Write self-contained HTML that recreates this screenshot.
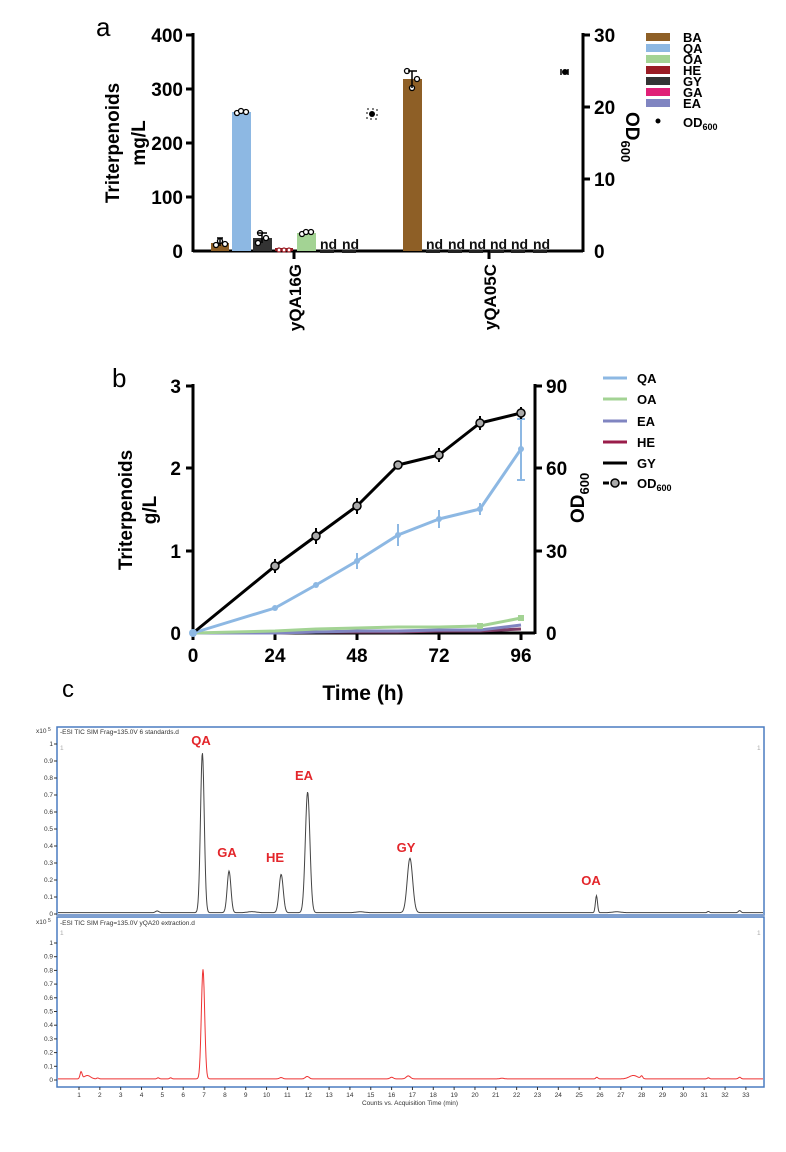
<!DOCTYPE html>
<html><head><meta charset="utf-8"><style>
body{margin:0;background:#fff;width:786px;height:1152px;overflow:hidden}
svg{display:block}
.b{font-family:"Liberation Sans",Arial,sans-serif;font-weight:bold}
.n{font-family:"Liberation Sans",Arial,sans-serif}
</style></head><body>
<svg id="s" width="786" height="1152" xmlns="http://www.w3.org/2000/svg">
<!-- Panel a -->
<text x="96" y="36" class="n" font-size="26">a</text>
<g stroke="#000" stroke-width="3" fill="none">
<line x1="193" y1="33" x2="193" y2="252"/>
<line x1="193" y1="251" x2="583" y2="251"/>
<line x1="583" y1="33" x2="583" y2="252"/>
<line x1="186" y1="35" x2="193" y2="35"/><line x1="186" y1="89" x2="193" y2="89"/><line x1="186" y1="143" x2="193" y2="143"/><line x1="186" y1="197" x2="193" y2="197"/>
<line x1="583" y1="35" x2="590" y2="35"/><line x1="583" y1="107" x2="590" y2="107"/><line x1="583" y1="179" x2="590" y2="179"/>
<line x1="294" y1="251" x2="294" y2="259"/><line x1="489" y1="251" x2="489" y2="259"/>
</g>
<g class="b" font-size="19" text-anchor="end">
<text x="183" y="42">400</text><text x="183" y="96">300</text><text x="183" y="150">200</text><text x="183" y="204">100</text><text x="183" y="258">0</text>
</g>
<g class="b" font-size="19">
<text x="594" y="42">30</text><text x="594" y="114">20</text><text x="594" y="186">10</text><text x="594" y="258">0</text>
</g>
<text class="b" font-size="19" text-anchor="middle" transform="translate(119,143) rotate(-90)">Triterpenoids</text>
<text class="b" font-size="19" text-anchor="middle" transform="translate(145,143) rotate(-90)">mg/L</text>
<text class="b" font-size="19" transform="translate(626,112) rotate(90)">OD<tspan font-size="13" dy="5">600</tspan></text>
<text class="b" font-size="17" text-anchor="end" transform="translate(301,264) rotate(-90)">yQA16G</text>
<text class="b" font-size="17" text-anchor="end" transform="translate(496,264) rotate(-90)">yQA05C</text>
<rect x="211" y="243" width="18" height="8" fill="#8e5f26"/>
<rect x="232" y="112" width="19" height="139" fill="#8db8e3"/>
<rect x="253" y="238" width="19" height="13" fill="#333"/>
<rect x="275" y="248" width="18" height="3" fill="#9a1c24"/>
<rect x="297" y="233" width="19" height="18" fill="#a3d394"/>
<rect x="403" y="79" width="19" height="172" fill="#8e5f26"/>
<g fill="#fff" stroke="#000" stroke-width="1.3">
<circle cx="216" cy="245" r="2.5"/><circle cx="220" cy="241" r="2.5"/><circle cx="225" cy="244" r="2.5"/>
<circle cx="237" cy="113" r="2.5"/><circle cx="241" cy="111" r="2.5"/><circle cx="246" cy="112" r="2.5"/>
<circle cx="258" cy="243" r="2.5"/><circle cx="260" cy="233" r="2.5"/><circle cx="266" cy="238" r="2.5"/>
<circle cx="279" cy="250" r="2" stroke="#9a1c24"/><circle cx="284" cy="250" r="2" stroke="#9a1c24"/><circle cx="289" cy="250" r="2" stroke="#9a1c24"/>
<circle cx="302" cy="234" r="2.5"/><circle cx="306" cy="232" r="2.5"/><circle cx="311" cy="232" r="2.5"/>
<circle cx="407" cy="71" r="2.5"/><circle cx="417" cy="79" r="2.5"/><circle cx="412" cy="88" r="2.5"/>
</g>
<g stroke="#000" stroke-width="1.5">
<line x1="220" y1="238" x2="220" y2="246"/><line x1="217" y1="238" x2="223" y2="238"/>
<line x1="262" y1="233" x2="262" y2="243"/><line x1="258" y1="233" x2="267" y2="233"/>
<line x1="412" y1="71" x2="412" y2="88"/><line x1="408" y1="71" x2="417" y2="71"/>
</g>
<g class="b" font-size="14" fill="#111">
<text x="320" y="249">nd</text><text x="342" y="249">nd</text>
<text x="426" y="249">nd</text><text x="448" y="249">nd</text><text x="469" y="249">nd</text><text x="490" y="249">nd</text><text x="511" y="249">nd</text><text x="533" y="249">nd</text>
</g>
<g fill="#222">
<rect x="320" y="250" width="14" height="3"/><rect x="342" y="250" width="14" height="3"/>
<rect x="426" y="250" width="14" height="3"/><rect x="448" y="250" width="14" height="3"/><rect x="469" y="250" width="14" height="3"/><rect x="490" y="250" width="14" height="3"/><rect x="511" y="250" width="14" height="3"/><rect x="533" y="250" width="14" height="3"/>
</g>
<circle cx="372" cy="114" r="3" fill="#000"/><rect x="367" y="109" width="10" height="10" fill="none" stroke="#000" stroke-dasharray="2 3"/>
<circle cx="565" cy="72" r="3" fill="#000"/><line x1="561" y1="69" x2="561" y2="75" stroke="#000" stroke-width="1.5"/><line x1="568" y1="69" x2="568" y2="75" stroke="#000" stroke-width="1.5"/>
<g>
<rect x="646" y="33" width="24" height="8" fill="#8e5f26"/>
<rect x="646" y="44" width="24" height="8" fill="#8db8e3"/>
<rect x="646" y="55" width="24" height="8" fill="#a3d394"/>
<rect x="646" y="66" width="24" height="8" fill="#9a1c24"/>
<rect x="646" y="77" width="24" height="8" fill="#333"/>
<rect x="646" y="88" width="24" height="8" fill="#e01f77"/>
<rect x="646" y="99" width="24" height="8" fill="#8085c1"/>
<circle cx="658" cy="121" r="2.5" fill="#000"/>
</g>
<g class="b" font-size="13">
<text x="683" y="42">BA</text><text x="683" y="53">QA</text><text x="683" y="64">OA</text><text x="683" y="75">HE</text><text x="683" y="86">GY</text><text x="683" y="97">GA</text><text x="683" y="108">EA</text><text x="683" y="127">OD<tspan font-size="9" dy="3">600</tspan></text>
</g>
<!-- Panel b -->
<text x="112" y="387" class="n" font-size="26">b</text>
<g stroke="#000" stroke-width="3" fill="none">
<line x1="193" y1="384" x2="193" y2="634"/><line x1="192" y1="633" x2="535" y2="633"/><line x1="535" y1="384" x2="535" y2="634"/>
<line x1="186" y1="386" x2="193" y2="386"/><line x1="186" y1="468" x2="193" y2="468"/><line x1="186" y1="551" x2="193" y2="551"/>
<line x1="535" y1="386" x2="542" y2="386"/><line x1="535" y1="468" x2="542" y2="468"/><line x1="535" y1="551" x2="542" y2="551"/>
<line x1="275" y1="633" x2="275" y2="640"/><line x1="357" y1="633" x2="357" y2="640"/><line x1="439" y1="633" x2="439" y2="640"/><line x1="521" y1="633" x2="521" y2="640"/><line x1="193" y1="633" x2="193" y2="640"/>
</g>
<g class="b" font-size="19" text-anchor="end"><text x="181" y="393">3</text><text x="181" y="475">2</text><text x="181" y="558">1</text><text x="181" y="640">0</text></g>
<g class="b" font-size="19"><text x="546" y="393">90</text><text x="546" y="475">60</text><text x="546" y="558">30</text><text x="546" y="640">0</text></g>
<g class="b" font-size="19" text-anchor="middle"><text x="193" y="662">0</text><text x="275" y="662">24</text><text x="357" y="662">48</text><text x="439" y="662">72</text><text x="521" y="662">96</text></g>
<text x="363" y="700" class="b" font-size="21" text-anchor="middle">Time (h)</text>
<text class="b" font-size="19" text-anchor="middle" transform="translate(132,510) rotate(-90)">Triterpenoids</text>
<text class="b" font-size="19" text-anchor="middle" transform="translate(156,510) rotate(-90)">g/L</text>
<text class="b" font-size="19" transform="translate(584,523) rotate(-90)">OD<tspan font-size="13" dy="5">600</tspan></text>
<g fill="none" stroke-width="3" stroke-linejoin="round">
<polyline stroke="#7f3e66" points="193,633 275,633 316,632 357,632 398,632 439,631 480,631 521,629"/>
<polyline stroke="#8085c1" points="193,633 275,633 316,632 357,631 398,631 439,630 480,630 521,625"/>
<polyline stroke="#a3d394" points="193,633 275,631 316,629 357,628 398,627 439,627 480,626 521,618"/>
<polyline stroke="#8db8e3" points="193,633 275,608 316,585 357,561 398,535 439,519 480,509 521,449"/>
<polyline stroke="#000" points="193,633 275,566 316,536 357,506 398,465 439,455 480,423 521,413"/>
</g>
<g stroke="#8db8e3" stroke-width="2"><line x1="357" y1="553" x2="357" y2="569"/><line x1="398" y1="524" x2="398" y2="546"/><line x1="439" y1="510" x2="439" y2="528"/><line x1="480" y1="503" x2="480" y2="515"/><line x1="521" y1="419" x2="521" y2="480"/><line x1="517" y1="419" x2="525" y2="419"/><line x1="517" y1="480" x2="525" y2="480"/></g>
<g fill="#8db8e3"><circle cx="275" cy="608" r="3"/><circle cx="316" cy="585" r="3"/><circle cx="357" cy="561" r="3"/><circle cx="398" cy="535" r="3"/><circle cx="439" cy="519" r="3"/><circle cx="480" cy="509" r="3"/><circle cx="521" cy="449" r="3"/><circle cx="193" cy="633" r="4"/></g>
<g fill="#a3d394"><rect x="518" y="615" width="6" height="6"/><rect x="477" y="623" width="6" height="6"/></g>
<g stroke="#000" stroke-width="2"><line x1="275" y1="559" x2="275" y2="573"/><line x1="316" y1="528" x2="316" y2="544"/><line x1="357" y1="498" x2="357" y2="514"/><line x1="398" y1="461" x2="398" y2="469"/><line x1="439" y1="448" x2="439" y2="462"/><line x1="480" y1="416" x2="480" y2="430"/><line x1="521" y1="407" x2="521" y2="419"/></g>
<g fill="#aaa" stroke="#000" stroke-width="1.5"><circle cx="275" cy="566" r="4"/><circle cx="316" cy="536" r="4"/><circle cx="357" cy="506" r="4"/><circle cx="398" cy="465" r="4"/><circle cx="439" cy="455" r="4"/><circle cx="480" cy="423" r="4"/><circle cx="521" cy="413" r="4"/></g>
<g stroke-width="3">
<line x1="603" y1="378" x2="627" y2="378" stroke="#8db8e3"/><line x1="603" y1="399" x2="627" y2="399" stroke="#a3d394"/><line x1="603" y1="421" x2="627" y2="421" stroke="#8085c1"/><line x1="603" y1="442" x2="627" y2="442" stroke="#9a1c4a"/><line x1="603" y1="463" x2="627" y2="463" stroke="#000"/><line x1="603" y1="483" x2="627" y2="483" stroke="#000" stroke-dasharray="6 3"/>
</g>
<circle cx="615" cy="483" r="4" fill="#aaa" stroke="#000" stroke-width="1.5"/>
<g class="b" font-size="13"><text x="637" y="383">QA</text><text x="637" y="404">OA</text><text x="637" y="426">EA</text><text x="637" y="447">HE</text><text x="637" y="468">GY</text><text x="637" y="488">OD<tspan font-size="9" dy="3">600</tspan></text></g>
<!-- Panel c -->
<text x="62" y="697" class="n" font-size="24">c</text>
<rect x="57" y="727" width="707" height="188" fill="none" stroke="#4a7cc0" stroke-width="1.5"/>
<rect x="57" y="917" width="707" height="170" fill="none" stroke="#4a7cc0" stroke-width="1.5"/>
<rect x="57" y="914" width="707" height="3" fill="#7f9fcf"/>
<g class="n" font-size="6.5" fill="#333">
<text x="60" y="734">-ESI TIC SIM Frag=135.0V 6 standards.d</text>
<text x="60" y="925">-ESI TIC SIM Frag=135.0V yQA20 extraction.d</text>
<text x="36" y="733">x10</text><text x="48" y="731" font-size="5">5</text>
<text x="36" y="924">x10</text><text x="48" y="922" font-size="5">5</text>
<text x="60" y="750" fill="#aaa">1</text><text x="757" y="750" fill="#aaa">1</text>
<text x="60" y="935" fill="#aaa">1</text><text x="757" y="935" fill="#aaa">1</text>
</g>
<g id="ticks" class="n" font-size="6.5" fill="#333"></g>
<text x="410" y="1105" class="n" font-size="6.5" text-anchor="middle" fill="#333">Counts vs. Acquisition Time (min)</text>
<path id="p1" fill="none" stroke="#444" stroke-width="1"/>
<path id="p2" fill="none" stroke="#e33" stroke-width="1"/>
<g class="b" font-size="13" fill="#e3262b" text-anchor="middle">
<text x="201" y="745">QA</text><text x="227" y="857">GA</text><text x="275" y="862">HE</text><text x="304" y="780">EA</text><text x="406" y="852">GY</text><text x="591" y="885">OA</text>
</g>
</svg>
<script>
function X(t){return 79+(t-1)*20.84;}
var T=document.getElementById('ticks'),h='';
function lab(y,v){return '<text x="53" y="'+(y+2)+'" text-anchor="end">'+v+'</text><line x1="54" y1="'+y+'" x2="57" y2="'+y+'" stroke="#333"/>';}
for(var i=0;i<=10;i++){var v=i==0?'0':(i==10?'1':'0.'+i);h+=lab(914-i*17,v);h+=lab(1080-i*13.7,v);}
for(var t=1;t<=33;t++){var x=X(t);h+='<line x1="'+x+'" y1="1087" x2="'+x+'" y2="1090" stroke="#333"/><text x="'+x+'" y="1097" text-anchor="middle">'+t+'</text>';}
T.innerHTML=h;
function path(y0,sc,pk){var d='';for(var x=58;x<=763;x+=0.5){var t=(x-79)/20.84+1,v=0.008;pk.forEach(function(p){v+=p[1]*Math.exp(-Math.pow((t-p[0])/p[2],2)/2);});d+=(d?'L':'M')+x+','+(y0-v*sc).toFixed(1);}return d;}
document.getElementById('p1').setAttribute('d',path(914,170,[[4.75,0.01,0.08],[6.92,0.94,0.09],[8.2,0.245,0.09],[9.3,0.006,0.2],[10.7,0.225,0.1],[11.97,0.71,0.11],[14.5,0.005,0.2],[16.88,0.32,0.13],[25.83,0.1,0.05],[26.8,0.005,0.2],[31.2,0.007,0.05],[32.7,0.012,0.06]]));
document.getElementById('p2').setAttribute('d',path(1080,137,[[1.1,0.05,0.05],[1.4,0.025,0.15],[1.9,0.007,0.05],[4.8,0.008,0.05],[5.4,0.008,0.05],[6.95,0.8,0.08],[10.7,0.01,0.08],[11.95,0.018,0.09],[16.0,0.012,0.08],[16.8,0.022,0.1],[21.3,0.005,0.1],[25.85,0.012,0.05],[27.6,0.025,0.2],[28.0,0.02,0.05],[31.2,0.008,0.05],[32.7,0.012,0.06]]));
</script>
</body></html>
